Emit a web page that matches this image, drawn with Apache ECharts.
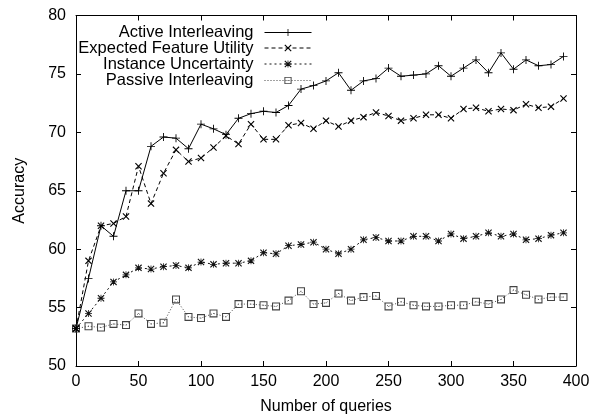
<!DOCTYPE html>
<html>
<head>
<meta charset="utf-8">
<script src="https://cdn.jsdelivr.net/npm/echarts@6/dist/echarts.min.js"></script>
<style>
html,body{margin:0;padding:0;background:#fff;}
#chart{width:594px;height:420px;}
</style>
</head>
<body>
<div id="chart"></div>
<script>
const queries = [0,10,20,30,40,50,60,70,80,90,100,110,120,130,140,150,160,170,180,190,200,210,220,230,240,250,260,270,280,290,300,310,320,330,340,350,360,370,380,390];
const seriesNames = ['Active Interleaving','Expected Feature Utility','Instance Uncertainty','Passive Interleaving'];
const activeInterleaving = [53.2,57.5,62.0,61.1,65.0,65.0,68.8,69.6,69.5,68.6,70.7,70.3,69.8,71.2,71.6,71.8,71.7,72.3,73.7,74.0,74.4,75.1,73.6,74.4,74.6,75.5,74.8,74.9,75.0,75.7,74.8,75.5,76.2,75.1,76.8,75.4,76.2,75.7,75.8,76.5];
const expectedFeatureUtility = [53.2,59.0,62.0,62.2,62.8,67.1,63.9,66.5,68.5,67.5,67.8,68.7,69.7,69.0,70.7,69.4,69.4,70.6,70.8,70.3,71.0,70.5,71.0,71.3,71.7,71.4,71.0,71.2,71.5,71.5,71.2,72.0,72.1,71.8,72.0,71.9,72.4,72.1,72.2,72.9];
const instanceUncertainty = [53.2,54.5,55.8,57.2,57.8,58.4,58.3,58.5,58.6,58.4,58.9,58.7,58.8,58.8,59.0,59.7,59.6,60.3,60.4,60.6,60.0,59.6,60.0,60.8,61.0,60.7,60.7,61.1,61.1,60.7,61.3,60.9,61.1,61.4,61.1,61.3,60.8,60.9,61.2,61.4];
const passiveInterleaving = [53.2,53.4,53.3,53.6,53.5,54.5,53.6,53.7,55.7,54.2,54.1,54.5,54.2,55.3,55.3,55.2,55.1,55.6,56.4,55.3,55.4,56.2,55.6,55.9,56.0,55.1,55.5,55.2,55.1,55.1,55.2,55.2,55.5,55.3,55.7,56.5,56.1,55.7,55.9,55.9];
const xTicks = [0,50,100,150,200,250,300,350,400];
const yTicks = [50,55,60,65,70,75,80];

const FONT = '"Liberation Sans", Arial, Helvetica, sans-serif';
const PLUS = 'path://M4,0H5V4H9V5H5V9H4V5H0V4H4Z';
const CROSS = 'path://M0,1L1,0L4.5,3.5L8,0L9,1L5.5,4.5L9,8L8,9L4.5,5.5L1,9L0,8L3.5,4.5Z';
const STAR = 'path://M0,1L1,0L4.5,3.5L8,0L9,1L5.5,4.5L9,8L8,9L4.5,5.5L1,9L0,8L3.5,4.5Z M4,0H5V9H4Z M0,4H9V5H0Z';
const SQUARE = 'path://M0,0H9V9H0Z M1.2,1.2V7.8H7.8V1.2Z M4,4H5V5H4Z';

function pairs(vals){ return queries.map((q,i)=>[q, vals[i]]); }

const seriesDefs = [
  {name: seriesNames[0], data: activeInterleaving, symbol: PLUS, size: 8, color: '#000', line: {type:'solid', width:1}},
  {name: seriesNames[1], data: expectedFeatureUtility, symbol: CROSS, size: 7, color: '#000', line: {type:[4,3], width:1}},
  {name: seriesNames[2], data: instanceUncertainty, symbol: STAR, size: 7, color: '#111', line: {type:[2,3], width:1}},
  {name: seriesNames[3], data: passiveInterleaving, symbol: SQUARE, size: 8, color: '#444', line: {type:[1,2], width:1}}
];

const legendCenters = [32, 47.5, 63.5, 80];
const legends = seriesDefs.map((s,i)=>({
  data: [s.name],
  orient: 'horizontal',
  align: 'right',
  right: 282,
  top: legendCenters[i] - 8,
  padding: 0,
  itemWidth: 47,
  itemHeight: 9,
  selectedMode: false,
  lineStyle: {width: 1},
  textStyle: {fontFamily: FONT, fontSize: 16.5, color: '#000', lineHeight: 16, padding: [0,6,0,0]}
}));

const axisCommon = {
  type: 'value',
  axisLine: {show: true, onZero: false, lineStyle: {color: '#000', width: 1}},
  axisTick: {show: true, inside: true, length: 5, lineStyle: {color: '#000', width: 1}},
  splitLine: {show: false}
};

const option = {
  animation: false,
  backgroundColor: '#fff',
  grid: {left: 76, right: 18, top: 15.5, bottom: 51.5, containLabel: false},
  legend: legends,
  xAxis: [
    Object.assign({}, axisCommon, {
      min: xTicks[0], max: xTicks[xTicks.length-1], interval: 50,
      name: 'Number of queries', nameLocation: 'middle', nameGap: 33,
      nameTextStyle: {fontFamily: FONT, fontSize: 16, color: '#000'},
      axisLabel: {fontFamily: FONT, fontSize: 16, color: '#000', margin: 8}
    }),
    Object.assign({}, axisCommon, {
      position: 'top', min: xTicks[0], max: xTicks[xTicks.length-1], interval: 50,
      axisLabel: {show: false}
    })
  ],
  yAxis: [
    Object.assign({}, axisCommon, {
      min: yTicks[0], max: yTicks[yTicks.length-1], interval: 5,
      name: 'Accuracy', nameLocation: 'middle', nameGap: 48, nameRotate: 90,
      nameTextStyle: {fontFamily: FONT, fontSize: 16, color: '#000'},
      axisLabel: {fontFamily: FONT, fontSize: 16, color: '#000', margin: 10}
    }),
    Object.assign({}, axisCommon, {
      position: 'right', min: yTicks[0], max: yTicks[yTicks.length-1], interval: 5,
      axisLabel: {show: false}
    })
  ],
  series: seriesDefs.slice().reverse().map(s=>({
    name: s.name,
    type: 'line',
    xAxisIndex: 0,
    yAxisIndex: 0,
    data: pairs(s.data),
    symbol: s.symbol,
    symbolSize: s.size,
    showSymbol: true,
    showAllSymbol: true,
    color: s.color,
    itemStyle: {color: s.color},
    lineStyle: {color: s.color, width: s.line.width, type: s.line.type},
    emphasis: {disabled: true},
    z: 2
  }))
};

const chart = echarts.init(document.getElementById('chart'), null, {renderer: 'canvas'});
chart.setOption(option);
</script>
</body>
</html>
